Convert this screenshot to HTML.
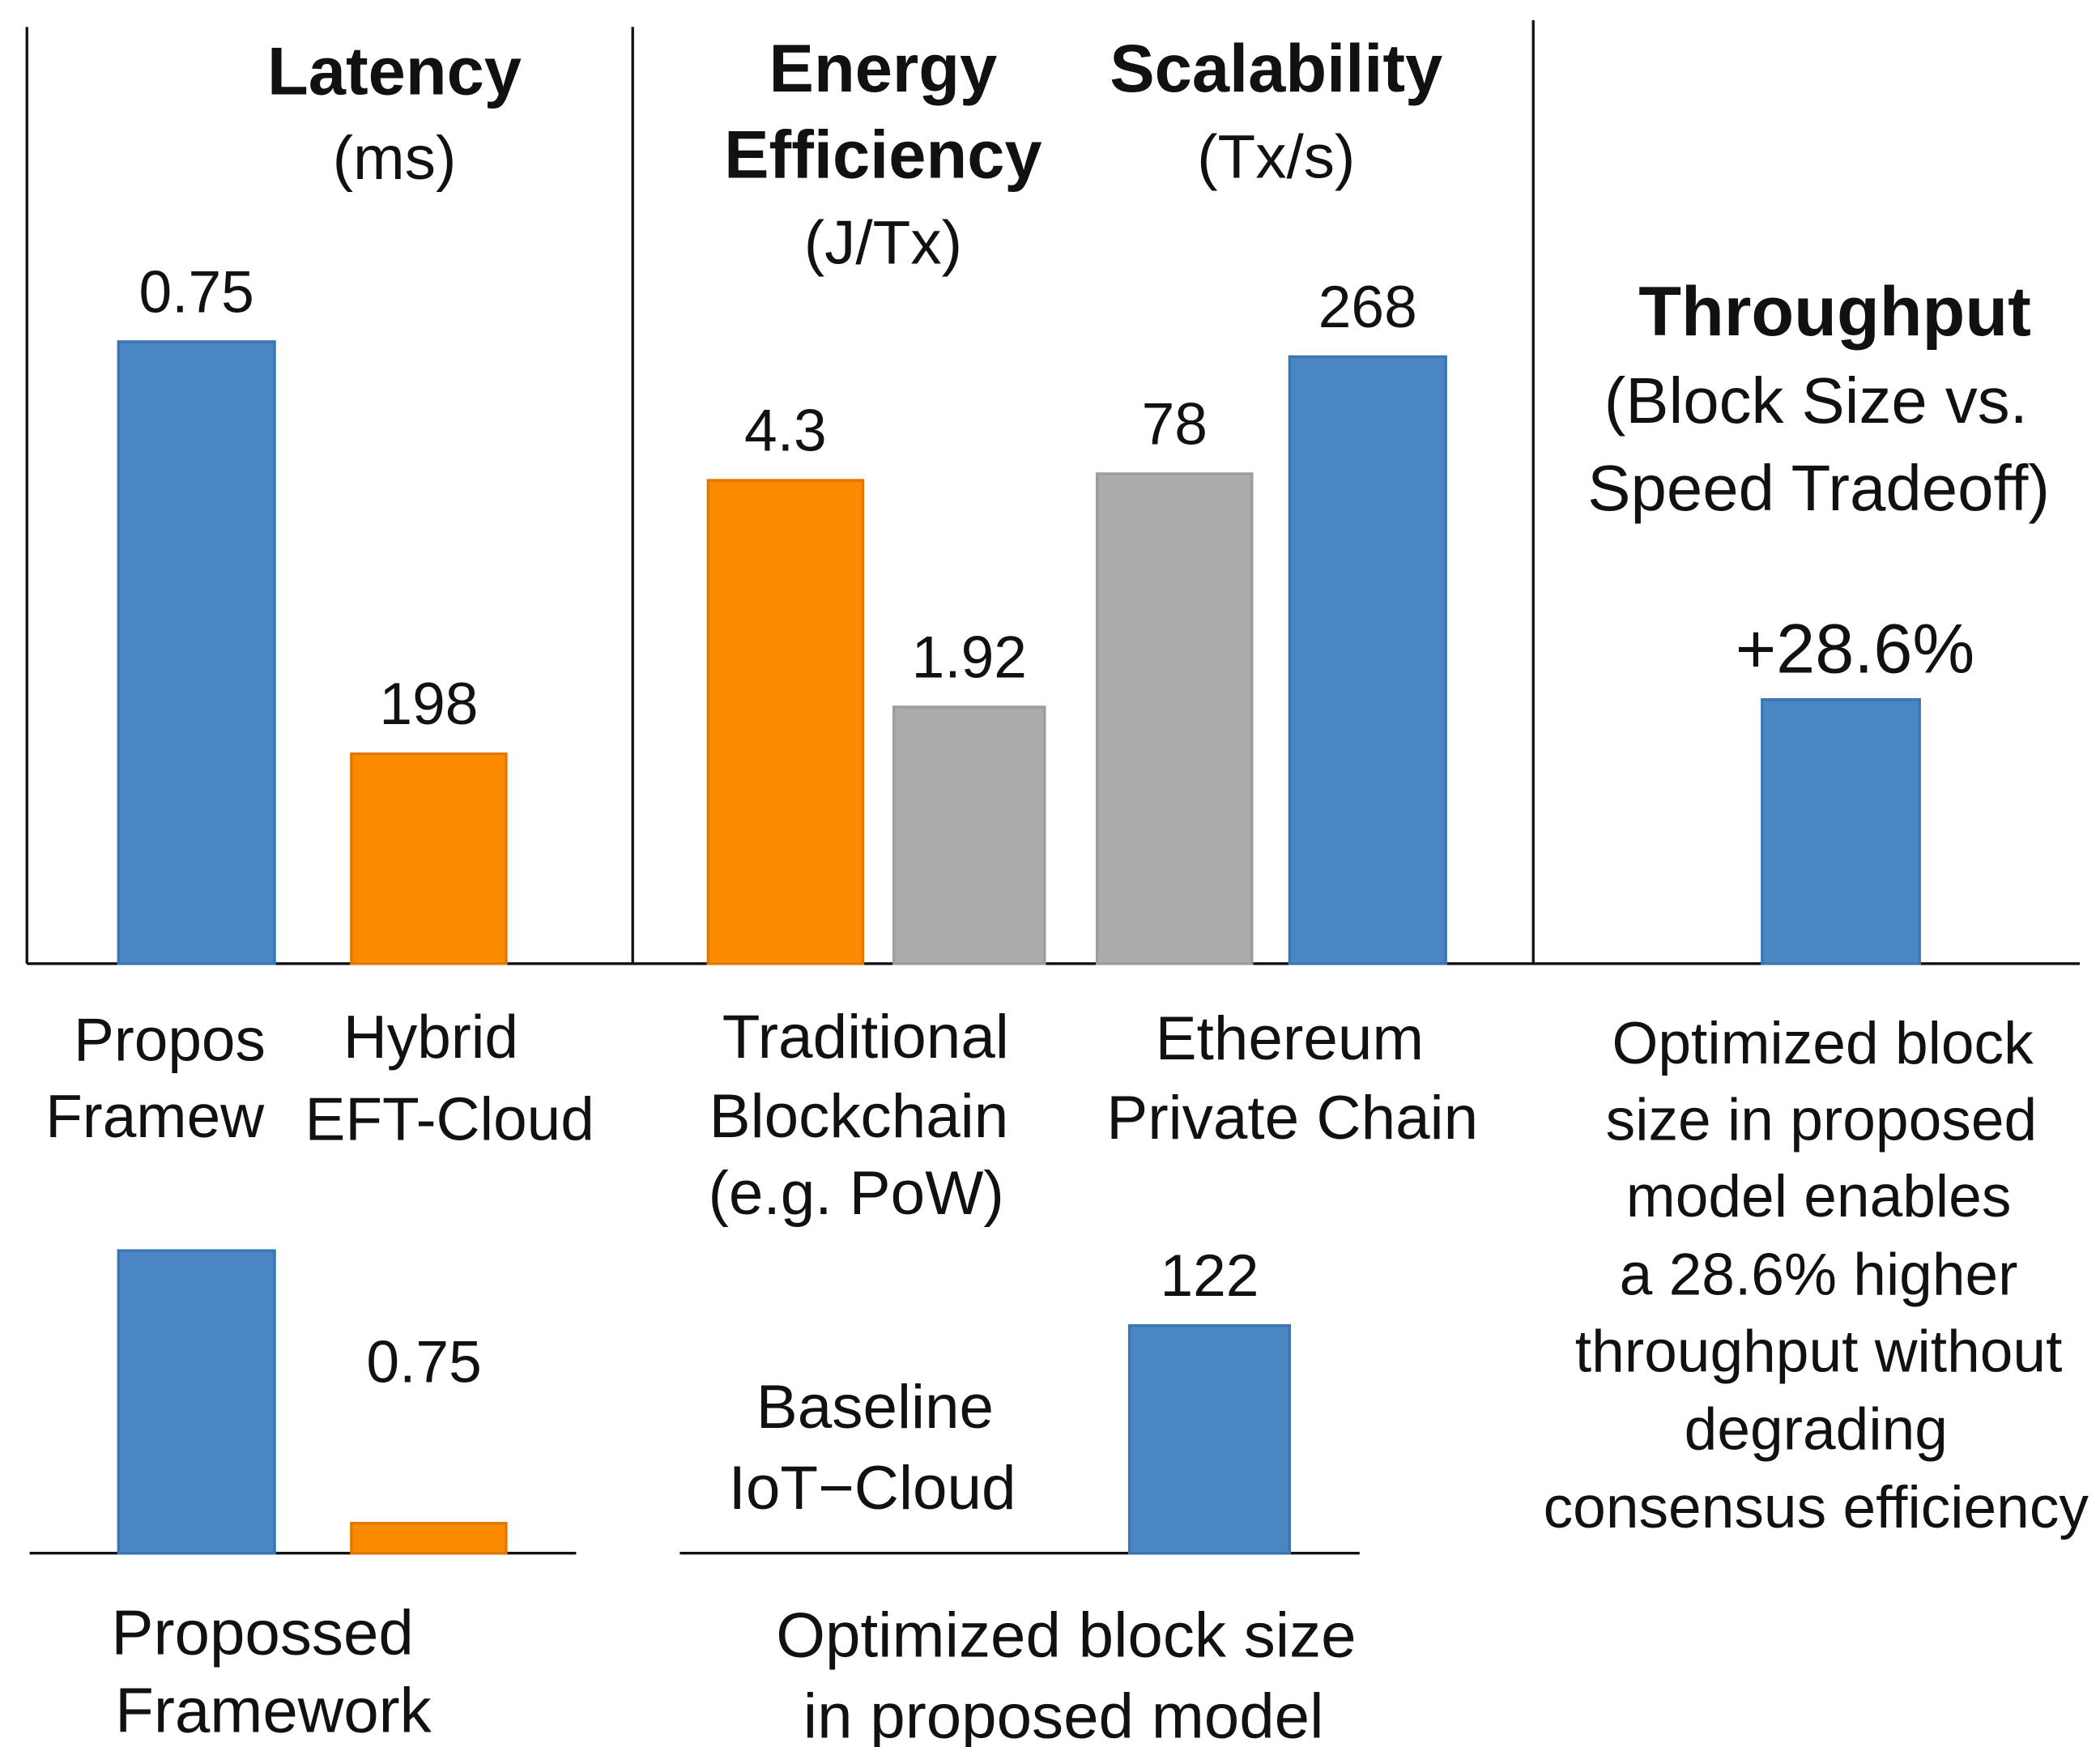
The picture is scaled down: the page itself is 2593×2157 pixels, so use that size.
<!DOCTYPE html>
<html><head><meta charset="utf-8"><style>
html,body{margin:0;padding:0;background:#fff}
svg{display:block}
text{font-family:"Liberation Sans","DejaVu Sans",sans-serif;fill:#111}
</style></head><body>
<svg id="chart" width="2593" height="2157" viewBox="0 0 1560 1298" preserveAspectRatio="none" xmlns="http://www.w3.org/2000/svg">
<g id="axes">
<line x1="20" y1="20" x2="20" y2="716" stroke="#111" stroke-width="2"/>
<line x1="470" y1="20" x2="470" y2="716" stroke="#111" stroke-width="2"/>
<line x1="1139" y1="15" x2="1139" y2="716" stroke="#111" stroke-width="2"/>
<line x1="20" y1="716" x2="1545" y2="716" stroke="#111" stroke-width="2"/>
<line x1="22" y1="1154" x2="428" y2="1154" stroke="#111" stroke-width="2"/>
<line x1="505" y1="1154" x2="1010" y2="1154" stroke="#111" stroke-width="2"/>
</g>
<g id="bars"></g>
<g id="titles">
<text x="293" y="70" font-size="50" text-anchor="middle" font-weight="bold" fill="#333">Latency</text>
<text x="293" y="133" font-size="46" text-anchor="middle">(ms)</text>
<text x="656" y="68" font-size="50" text-anchor="middle" font-weight="bold">Energy</text>
<text x="656" y="132" font-size="50" text-anchor="middle" font-weight="bold">Efficiency</text>
<text x="656" y="196" font-size="46" text-anchor="middle">(J/Tx)</text>
<text x="948" y="68" font-size="50" text-anchor="middle" font-weight="bold">Scalability</text>
<text x="948" y="132" font-size="46" text-anchor="middle">(Tx/s)</text>
<text x="1363" y="249" font-size="52" text-anchor="middle" font-weight="bold">Throughput</text>
<text x="1349" y="314" font-size="48" text-anchor="middle">(Block Size vs.</text>
<text x="1351" y="379" font-size="48" text-anchor="middle">Speed Tradeoff)</text>
</g>
<g id="labels">
<text x="126" y="788" font-size="45" text-anchor="middle">Propos</text>
<text x="115" y="845" font-size="45" text-anchor="middle">Framew</text>
<text x="320" y="786" font-size="45" text-anchor="middle">Hybrid</text>
<text x="334" y="847" font-size="45" text-anchor="middle">EFT-Cloud</text>
<text x="643" y="786" font-size="46" text-anchor="middle">Traditional</text>
<text x="638" y="845" font-size="46" text-anchor="middle">Blockchain</text>
<text x="636" y="902" font-size="46" text-anchor="middle">(e.g. PoW)</text>
<text x="958" y="787" font-size="46" text-anchor="middle">Ethereum</text>
<text x="960" y="846" font-size="46" text-anchor="middle">Private Chain</text>
<text x="1354" y="790" font-size="44" text-anchor="middle">Optimized block</text>
<text x="1353" y="847" font-size="44" text-anchor="middle">size in proposed</text>
<text x="1351" y="904" font-size="44" text-anchor="middle">model enables</text>
<text x="1351" y="962" font-size="44" text-anchor="middle">a 28.6% higher</text>
<text x="1351" y="1019" font-size="44" text-anchor="middle">throughput without</text>
<text x="1349" y="1077" font-size="44" text-anchor="middle">degrading</text>
<text x="1349" y="1135" font-size="44" text-anchor="middle">consensus efficiency</text>
<text x="650" y="1061" font-size="46" text-anchor="middle">Baseline</text>
<text x="648" y="1121" font-size="46" text-anchor="middle">IoT−Cloud</text>
<text x="195" y="1229" font-size="47" text-anchor="middle" fill="#444">Propossed</text>
<text x="203" y="1287" font-size="47" text-anchor="middle" fill="#444">Framework</text>
<text x="792" y="1231" font-size="47" text-anchor="middle">Optimized block size</text>
<text x="790" y="1291" font-size="47" text-anchor="middle">in proposed model</text>
</g>
</svg>
<script>
// bar data: printed labels and relative bar heights (0-100 index)
const barLabels = ["0.75", "198", "4.3", "1.92", "78", "268", "+28.6%", "", "0.75", "122"];
const barValues = [66.4, 22.4, 51.6, 27.4, 52.3, 64.8, 28.2, 32.3, 3.2, 24.3];
const barColors = ["#4a86c3", "#fb8a00", "#fb8a00", "#a9abad", "#a9abad", "#4a86c3", "#4a86c3", "#4a86c3", "#fb8a00", "#4a86c3"];
const barNames = ["bar-latency-proposed", "bar-latency-hybrid", "bar-energy-traditional", "bar-energy-baseline", "bar-scalability-ethereum", "bar-scalability-proposed", "bar-throughput", "bar-lower-proposed", "bar-lower-hybrid", "bar-lower-optimized"];

// layout (not data)
const slotX = [88, 261, 526, 664, 815, 958, 1309, 88, 261, 839];
const slotW = [116, 115, 115, 112, 115, 116, 117, 116, 115, 119];
const baseY = [716, 716, 716, 716, 716, 716, 716, 1154, 1154, 1154];
const labelSize = [44, 44, 44, 44, 44, 44, 52, 44, 44, 44];
function yScale(v) { return v * 6.96; }

const g = document.getElementById('bars');
const NS = 'http://www.w3.org/2000/svg';
barValues.forEach((v, i) => {
  const h = yScale(v);
  const r = document.createElementNS(NS, 'rect');
  r.setAttribute('x', slotX[i]);
  r.setAttribute('y', baseY[i] - h);
  r.setAttribute('width', slotW[i]);
  r.setAttribute('height', h);
  r.setAttribute('fill', barColors[i]);
  r.setAttribute('stroke', barColors[i] === '#4a86c3' ? '#3a76b3' : (barColors[i] === '#fb8a00' ? '#e07800' : '#9a9c9e'));
  r.setAttribute('stroke-width', '2');
  
  
  g.appendChild(r);
  if (barLabels[i]) {
    const t = document.createElementNS(NS, 'text');
    let cx = slotX[i] + slotW[i] / 2;
    let ty = baseY[i] - h - 22;
    if (i === 8) { cx = 315; ty = 1027; }
    if (i === 6) { cx = 1378; ty = baseY[i] - h - 20; }
    t.setAttribute('x', cx);
    t.setAttribute('y', ty);
    t.setAttribute('font-size', labelSize[i]);
    t.setAttribute('text-anchor', 'middle');
    t.textContent = barLabels[i];
    
    
    g.appendChild(t);
  }
});
</script>
</body></html>
